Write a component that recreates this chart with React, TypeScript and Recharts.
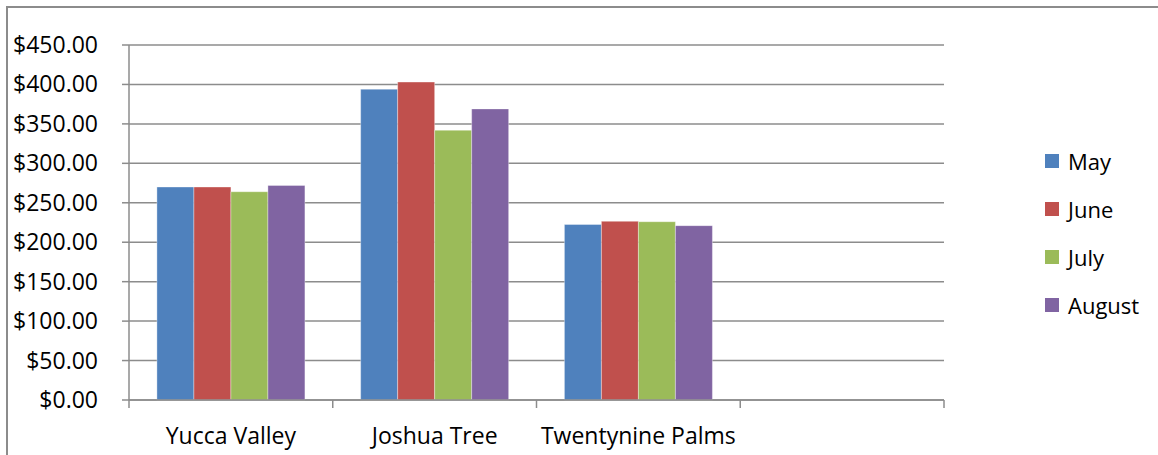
import React from 'react';
import { BarChart, Bar, XAxis, YAxis, CartesianGrid } from 'recharts';

const categories = ['Yucca Valley', 'Joshua Tree', 'Twentynine Palms', ''];
const may = [270, 394, 222.5];
const june = [270, 403, 226.5];
const july = [264, 342, 226];
const august = [272, 369, 221];
const yTicks = [0, 50, 100, 150, 200, 250, 300, 350, 400, 450];

const series = [
    { key: 'May', values: may, color: '#4F81BD' },
    { key: 'June', values: june, color: '#C0504D' },
    { key: 'July', values: july, color: '#9BBB59' },
    { key: 'August', values: august, color: '#8064A2' },
];

const data = categories.map((name, i) => {
    const row: Record<string, any> = { name };
    series.forEach((s) => {
        if (s.values[i] !== undefined) row[s.key] = s.values[i];
    });
    return row;
});

const W = 1158;
const H = 455;
const M = { top: 45, right: 214, bottom: 0, left: 0 };
const X_AXIS_H = 55;
const Y_AXIS_W = 129;
const FONT = '"Open Sans", sans-serif';
const FONT_SIZE = 23;
const GRID = '#8c8c8c';
const bandWidth = (W - M.right - Y_AXIS_W) / categories.length;

const CategoryTick = (props: any) => {
    const { x, y, payload, index } = props;
    const left = x - bandWidth / 2;
    return (
        <g>
            <line x1={left} y1={y} x2={left} y2={y + 8} stroke={GRID} strokeWidth={1.5} />
            {index === categories.length - 1 && (
                <line x1={x + bandWidth / 2} y1={y} x2={x + bandWidth / 2} y2={y + 8} stroke={GRID} strokeWidth={1.5} />
            )}
            <text x={x} y={y + 44} textAnchor="middle" fill="#000" fontSize={FONT_SIZE} fontFamily={FONT}>
                {payload.value}
            </text>
        </g>
    );
};

const ValueTick = (props: any) => {
    const { x, y, payload } = props;
    return (
        <text x={x} y={y} dy={8} textAnchor="end" fill="#000" fontSize={FONT_SIZE} fontFamily={FONT}>
            {`$${Number(payload.value).toFixed(2)}`}
        </text>
    );
};

export default function App() {
    return (
        <div style={{ position: 'relative', width: W, height: H, background: '#fff', overflow: 'hidden' }}>
            <style>{`body{margin:0}`}</style>
            <div
                style={{
                    position: 'absolute',
                    left: 6,
                    top: 6,
                    right: -10,
                    bottom: -10,
                    borderLeft: '2px solid #8c8c8c',
                    borderTop: '2px solid #8c8c8c',
                }}
            />
            <BarChart width={W} height={H} data={data} margin={M} barCategoryGap="13.7%" barGap={0}>
                <CartesianGrid vertical={false} stroke={GRID} strokeWidth={1.5} />
                <XAxis
                    dataKey="name"
                    tickSize={0}
                    tickMargin={0}
                    tickLine={false}
                    axisLine={{ stroke: GRID, strokeWidth: 1.5 }}
                    tick={<CategoryTick />}
                    interval={0}
                    height={X_AXIS_H}
                />
                <YAxis
                    domain={[0, 450]}
                    ticks={yTicks}
                    width={Y_AXIS_W}
                    tickSize={7}
                    tickMargin={24}
                    tickLine={{ stroke: GRID, strokeWidth: 1.5 }}
                    axisLine={{ stroke: GRID, strokeWidth: 1.5 }}
                    tick={<ValueTick />}
                    interval={0}
                />
                {series.map((s) => (
                    <Bar
                        key={s.key}
                        dataKey={s.key}
                        fill={s.color}
                        stroke="#ffffff"
                        strokeOpacity={0.35}
                        strokeWidth={1}
                        isAnimationActive={false}
                    />
                ))}
            </BarChart>
            <div style={{ position: 'absolute', left: 1045, top: 137, fontFamily: FONT, fontSize: FONT_SIZE - 1, color: '#000' }}>
                {series.map((s) => (
                    <div key={s.key} style={{ display: 'flex', alignItems: 'center', height: 48 }}>
                        <span style={{ width: 14, height: 14, background: s.color, marginRight: 9, display: 'inline-block' }} />
                        <span>{s.key}</span>
                    </div>
                ))}
            </div>
        </div>
    );
}
